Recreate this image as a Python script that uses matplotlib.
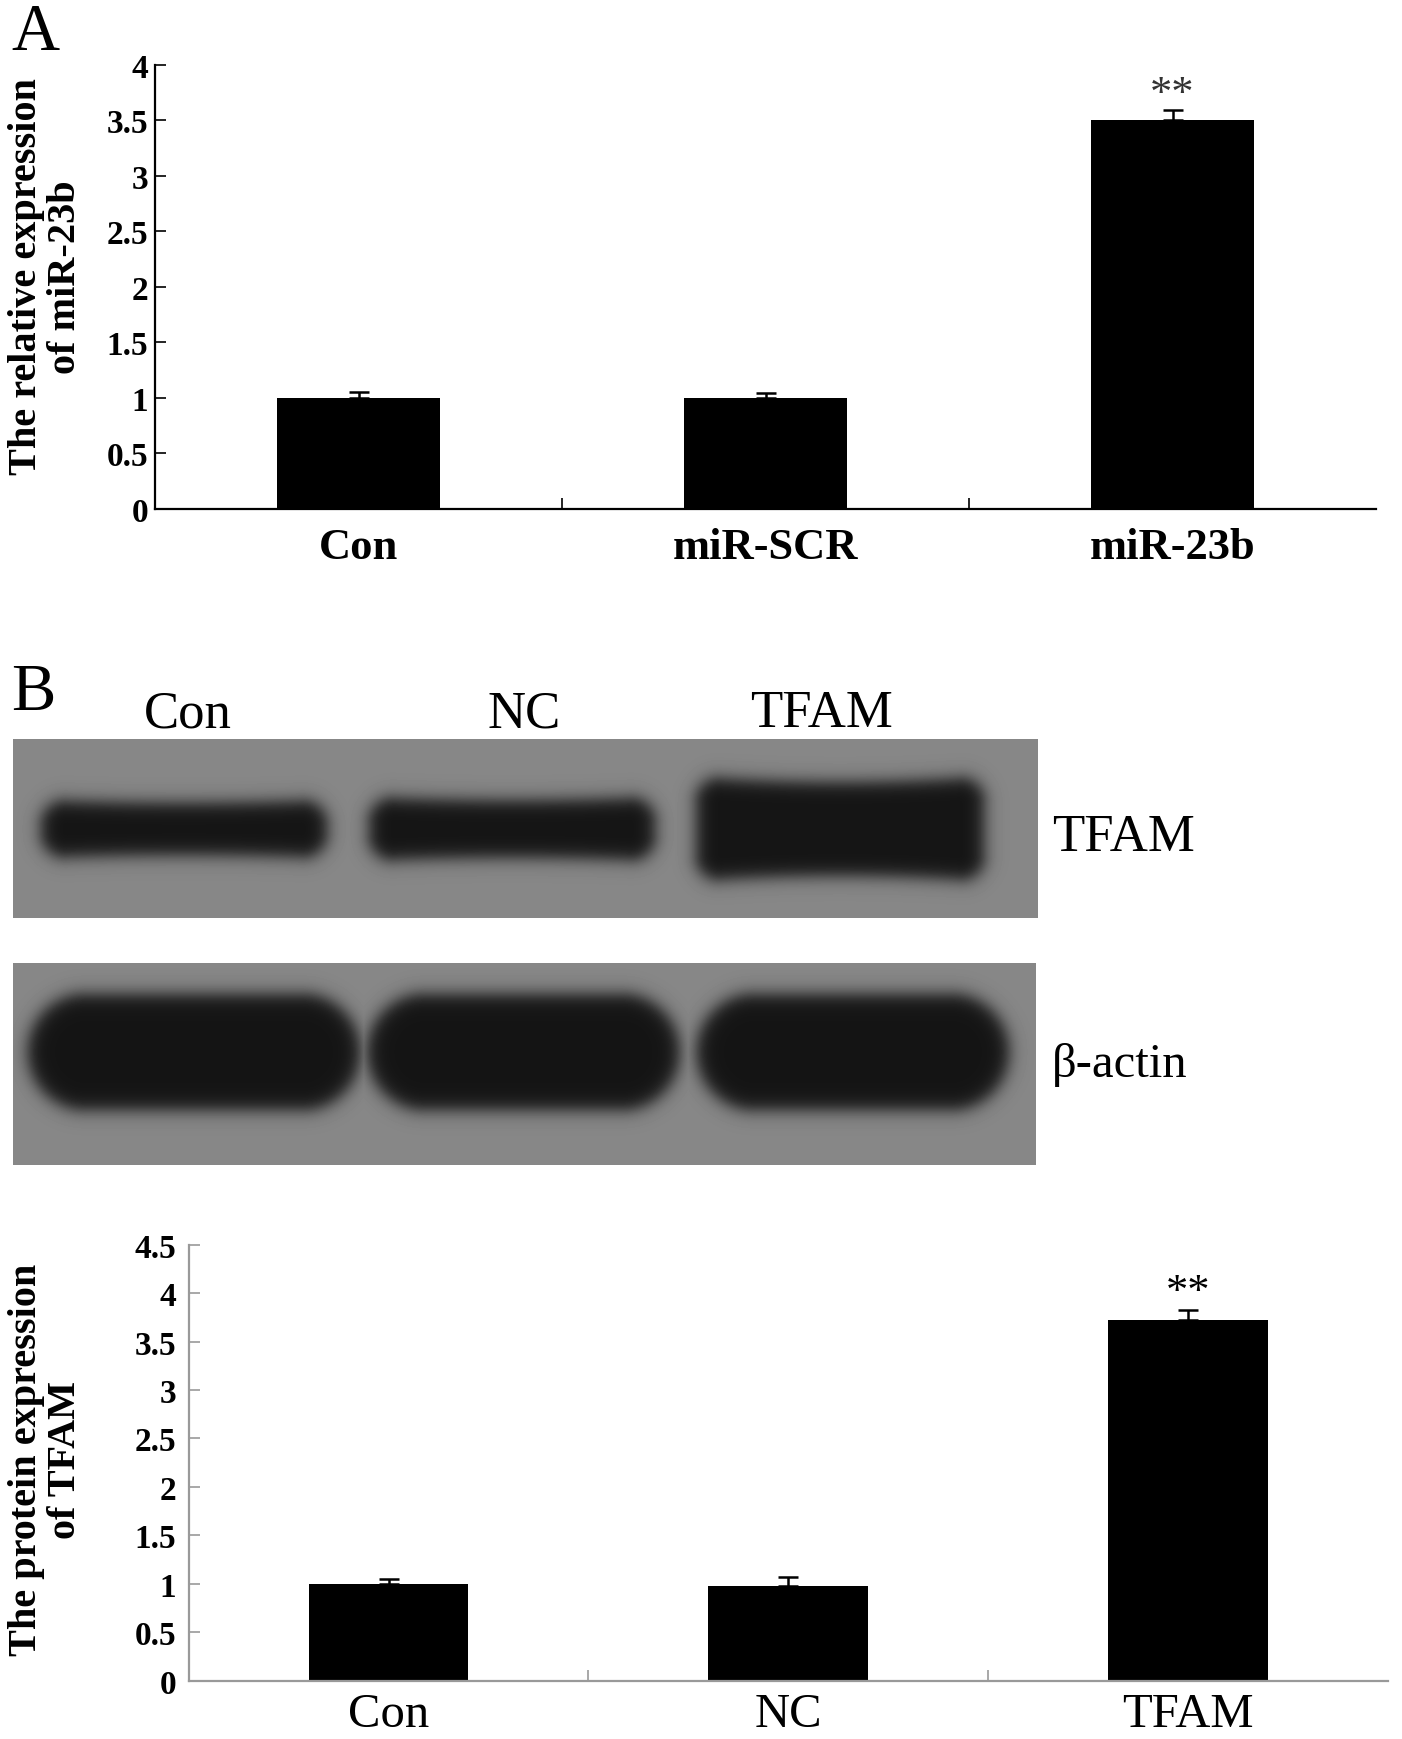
import numpy as np
import matplotlib
matplotlib.use("Agg")
import matplotlib.pyplot as plt

plt.rcParams['font.family'] = ['Liberation Serif', 'DejaVu Serif']

# panel A: qPCR
groups_a = ["Con", "miR-SCR", "miR-23b"]
mir_mean = [1.0, 1.0, 3.5]
mir_err = [0.05, 0.04, 0.09]
mir_yticks = [0, 0.5, 1, 1.5, 2, 2.5, 3, 3.5, 4]

# panel B: western blot
lanes_b = ["Con", "NC", "TFAM"]
tfam_density = [1.0, 1.1, 1.8]     # relative band thickness
actin_density = [1.0, 1.0, 1.0]
groups_b = ["Con", "NC", "TFAM"]
tfam_mean = [1.0, 0.98, 3.72]
tfam_err = [0.05, 0.09, 0.11]
tfam_yticks = [0, 0.5, 1, 1.5, 2, 2.5, 3, 3.5, 4, 4.5]

W, H = 1402, 1740
fig = plt.figure(figsize=(W / 100, H / 100), dpi=100)


def px_axes(x0, y0, x1, y1):
    return fig.add_axes([x0 / W, 1 - y1 / H, (x1 - x0) / W, (y1 - y0) / H])


def bar_panel(ax, labels, vals, errs, yticks, top, spine_col, tick_size, label_font, ypad, xpad):
    x = np.arange(len(labels))
    ax.bar(x, vals, width=0.4, color='black', zorder=2)
    ax.errorbar(x, vals, yerr=[np.zeros(len(vals)), errs], fmt='none', ecolor='black',
                elinewidth=1.8, capsize=7, capthick=1.8, zorder=3)
    ax.set_xlim(-0.5, len(labels) - 0.5)
    ax.set_ylim(0, top)
    ax.set_yticks(yticks)
    ax.set_yticklabels([("%g" % v) for v in yticks], fontsize=tick_size, fontweight='bold')
    ax.set_xticks(x)
    ax.set_xticklabels(labels, **label_font)
    ax.set_xticks(np.arange(len(labels) - 1) + 0.5, minor=True)
    ax.tick_params(axis='x', which='major', length=0, pad=xpad)
    ax.tick_params(axis='x', which='minor', direction='in', length=8, width=1.2, color=spine_col)
    ax.tick_params(axis='y', direction='in', length=8, width=1.2, color=spine_col, pad=ypad)
    for s in ['top', 'right']:
        ax.spines[s].set_visible(False)
    for s in ['left', 'bottom']:
        ax.spines[s].set_color(spine_col)
        ax.spines[s].set_linewidth(1.6)
    return x


# ---- A ----
ax_a = px_axes(155, 65.5, 1376, 509.6)
xa = bar_panel(ax_a, groups_a, mir_mean, mir_err, mir_yticks, 4, 'black', 24,
               dict(fontsize=32, fontweight='bold'), 5, 13)
ax_a.text(xa[2], mir_mean[2] + mir_err[2] + 0.14, "**", ha='center', va='center',
          fontsize=32, color='#333333')
fig.text(46 / W, 1 - 277 / H, "The relative expression\nof miR-23b", rotation=90,
         ha='center', va='center', multialignment='center', fontsize=29, fontweight='bold',
         linespacing=1.05)
fig.text(11 / W, 1 - 50 / H, "A", fontsize=48, ha='left', va='baseline')


# ---- B blot ----
def blot(ax, pw, ph, density, base_h, centers, half_w, cy, radius, bow):
    X, Y = np.meshgrid(np.arange(pw) + 0.5, np.arange(ph) + 0.5)
    dark = np.zeros_like(X)
    for c, hw, d in zip(centers, half_w, density):
        h = base_h * d
        dx = np.abs(X - c)
        hh = h * (1 + bow * np.clip(dx / hw, 0, 1) ** 2)
        r = min(radius, h)
        qx = np.maximum(dx - (hw - r), 0)
        qy = np.maximum(np.abs(Y - cy) - (hh - r), 0)
        sd = np.sqrt(qx ** 2 + qy ** 2) - r
        dark = np.maximum(dark, 1 / (1 + np.exp(sd / 5.0)))
    bg, fg = 0.53, 0.08
    img = bg - (bg - fg) * dark
    ax.imshow(img, cmap='gray', vmin=0, vmax=1, extent=(0, pw, ph, 0),
              aspect='auto', interpolation='bilinear')
    ax.set_xlim(0, pw)
    ax.set_ylim(ph, 0)
    ax.axis('off')


pw1, ph1 = 1025, 179
ax_b1 = px_axes(13, 740, 13 + pw1, 740 + ph1)
blot(ax_b1, pw1, ph1, tfam_density, 26, [pw1 * (0.167 + 0.32 * i) for i in range(3)],
     [143, 143, 144], 90, 26, 0.12)
pw2, ph2 = 1023, 202
ax_b2 = px_axes(13, 964, 13 + pw2, 964 + ph2)
blot(ax_b2, pw2, ph2, actin_density, 58, [pw2 * (0.177 + 0.322 * i) for i in range(3)],
     [166, 156, 156], 89, 58, 0.0)

for name, xc in zip(lanes_b, [188, 524, 821]):
    fig.text(xc / W, 1 - 727 / H, name, fontsize=38, ha='center', va='baseline')
fig.text(1052 / W, 1 - 851 / H, "TFAM", fontsize=38, ha='left', va='baseline')
fig.text(1052 / W, 1 - 1077 / H, "β-actin", fontsize=35, ha='left', va='baseline')
fig.text(11 / W, 1 - 710 / H, "B", fontsize=48, ha='left', va='baseline')

# ---- B chart ----
ax_b = px_axes(188.7, 1245.6, 1387.6, 1681.7)
xb = bar_panel(ax_b, groups_b, tfam_mean, tfam_err, tfam_yticks, 4.5, '#999999', 24,
               dict(fontsize=35), 9, 8)
ax_b.text(xb[2], tfam_mean[2] + tfam_err[2] + 0.18, "**", ha='center', va='center',
          fontsize=32, color='black')
fig.text(46 / W, 1 - 1460 / H, "The protein expression\nof TFAM", rotation=90,
         ha='center', va='center', multialignment='center', fontsize=29, fontweight='bold',
         linespacing=1.05)

fig.savefig("out.png", dpi=100)
